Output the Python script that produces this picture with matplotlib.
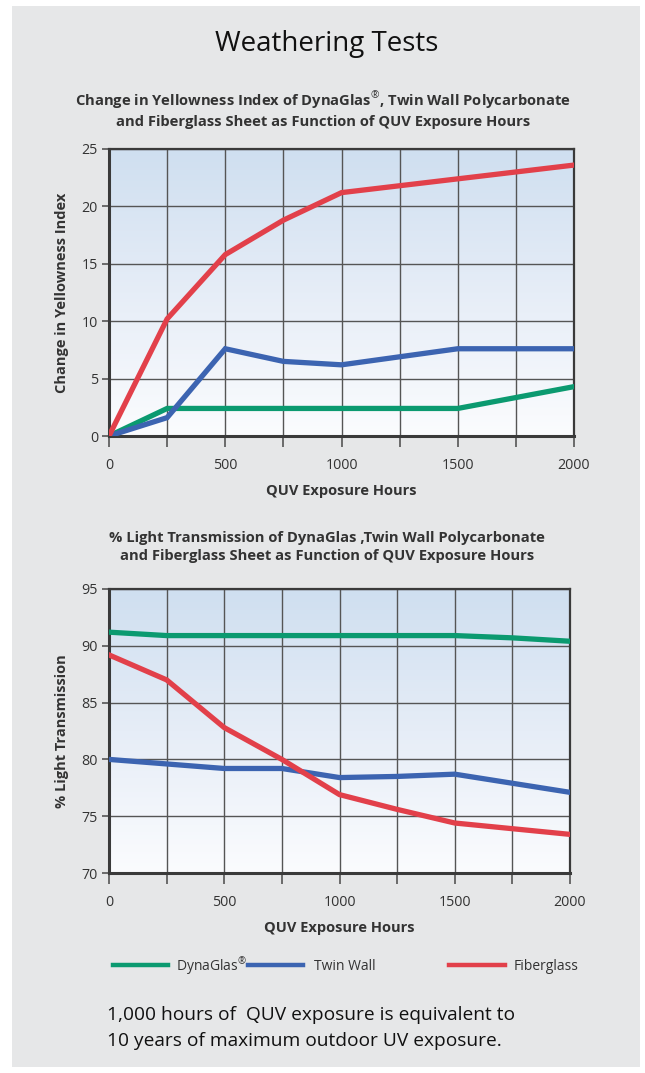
import numpy as np
import matplotlib.pyplot as plt
from matplotlib.patches import Rectangle
from matplotlib.lines import Line2D
from matplotlib.colors import LinearSegmentedColormap

# data
hours = [0, 250, 500, 750, 1000, 1250, 1500, 1750, 2000]

yi_dynaglas = [0, 2.4, 2.4, 2.4, 2.4, 2.4, 2.4, 3.35, 4.3]
yi_twinwall = [0, 1.6, 7.6, 6.5, 6.2, 6.9, 7.6, 7.6, 7.6]
yi_fiberglass = [0, 10.2, 15.8, 18.8, 21.2, 21.8, 22.4, 23.0, 23.6]

lt_dynaglas = [91.2, 90.9, 90.9, 90.9, 90.9, 90.9, 90.9, 90.7, 90.4]
lt_twinwall = [80.0, 79.6, 79.2, 79.2, 78.4, 78.5, 78.7, 77.9, 77.1]
lt_fiberglass = [89.2, 87.0, 82.8, 80.0, 76.9, 75.6, 74.4, 73.9, 73.4]

names = ['DynaGlas$^{\u00ae}$', 'Twin Wall', 'Fiberglass']
colors = ['#0b9a70', '#3c64b1', '#e2404a']

W, H = 645, 1073
plt.rcParams['font.family'] = ['Open Sans', 'DejaVu Sans']
plt.rcParams['mathtext.fontset'] = 'custom'
plt.rcParams['mathtext.rm'] = 'Open Sans'
plt.rcParams['mathtext.bf'] = 'Open Sans:bold'
fig = plt.figure(figsize=(W / 100, H / 100), dpi=100)
fig.patch.set_facecolor('white')
fig.patches.append(Rectangle((12 / W, 1 - 1067 / H), 628 / W, 1061 / H,
                             transform=fig.transFigure, facecolor='#e6e7e8',
                             edgecolor='none', zorder=-5))


def px_axes(x0, y0, x1, y1):
    return fig.add_axes([x0 / W, 1 - y1 / H, (x1 - x0) / W, (y1 - y0) / H])


grad = np.linspace(0, 1, 256).reshape(-1, 1)
cmap = LinearSegmentedColormap.from_list('bg', ['#fbfcfe', '#e6edf7', '#cfdff0'])


def draw_chart(ax, series, ylim, yticks, ylabel):
    ax.imshow(grad, cmap=cmap, extent=[0, 1, 0, 1], transform=ax.transAxes,
              aspect='auto', origin='lower', zorder=0)
    for vals, c in zip(series, colors):
        ax.plot(hours, vals, color=c, lw=3.8, solid_joinstyle='miter', zorder=3)
    ax.set_xlim(0, 2000)
    ax.set_ylim(*ylim)
    ax.set_xticks(hours)
    ax.set_xticklabels(['0', '', '500', '', '1000', '', '1500', '', '2000'])
    ax.set_yticks(yticks)
    ax.grid(True, color='#555555', lw=1.0, zorder=1)
    ax.set_axisbelow(True)
    for s in ax.spines.values():
        s.set_color('#3a3a3a')
        s.set_linewidth(1.6)
    ax.spines['left'].set_linewidth(2.2)
    ax.spines['bottom'].set_linewidth(2.2)
    ax.tick_params(axis='x', length=8, width=1.2, color='#555555', pad=8,
                   labelsize=10.3, labelcolor='#333333')
    ax.tick_params(axis='y', length=5, width=1.2, color='#555555', pad=3,
                   labelsize=10.3, labelcolor='#333333')
    ax.set_xlabel('QUV Exposure Hours', fontsize=10.5, fontweight='bold',
                  color='#333333', labelpad=8)
    ax.set_ylabel(ylabel, fontsize=10.5, fontweight='bold', color='#333333',
                  labelpad=9)


ax1 = px_axes(109, 149, 574, 436)
draw_chart(ax1, [yi_dynaglas, yi_twinwall, yi_fiberglass], (0, 25),
           [0, 5, 10, 15, 20, 25], 'Change in Yellowness Index')

ax2 = px_axes(109, 589, 570, 873)
draw_chart(ax2, [lt_dynaglas, lt_twinwall, lt_fiberglass], (70, 95),
           [70, 75, 80, 85, 90, 95], '% Light Transmission')

fig.text(327 / W, 1 - 44 / H, 'Weathering Tests', fontsize=20, ha='center',
         va='center', color='#111111')
fig.text(323 / W, 1 - 109 / H,
         'Change in Yellowness Index of DynaGlas$^{\u00ae}$, Twin Wall Polycarbonate\n'
         'and Fiberglass Sheet as Function of QUV Exposure Hours',
         fontsize=10.6, fontweight='bold', ha='center', va='center',
         color='#333333', linespacing=1.35)
fig.text(327 / W, 1 - 547 / H,
         '% Light Transmission of DynaGlas ,Twin Wall Polycarbonate\n'
         'and Fiberglass Sheet as Function of QUV Exposure Hours',
         fontsize=10.6, fontweight='bold', ha='center', va='center',
         color='#333333', linespacing=1.35)

# legend row
leg_x = [(113, 168, 176), (248, 303, 314), (449, 505, 514)]
for (x0, x1, xt), name, c in zip(leg_x, names, colors):
    fig.add_artist(Line2D([x0 / W, x1 / W], [1 - 965 / H] * 2, color=c, lw=3.2,
                          transform=fig.transFigure))
    fig.text(xt / W, 1 - 966 / H, name, fontsize=10, va='center',
             color='#333333')

fig.text(107 / W, 1 - 1028 / H,
         '1,000 hours of  QUV exposure is equivalent to\n'
         '10 years of maximum outdoor UV exposure.',
         fontsize=13.8, va='center', color='#111111', linespacing=1.55)

fig.savefig('out.png', dpi=100, facecolor=fig.get_facecolor())
